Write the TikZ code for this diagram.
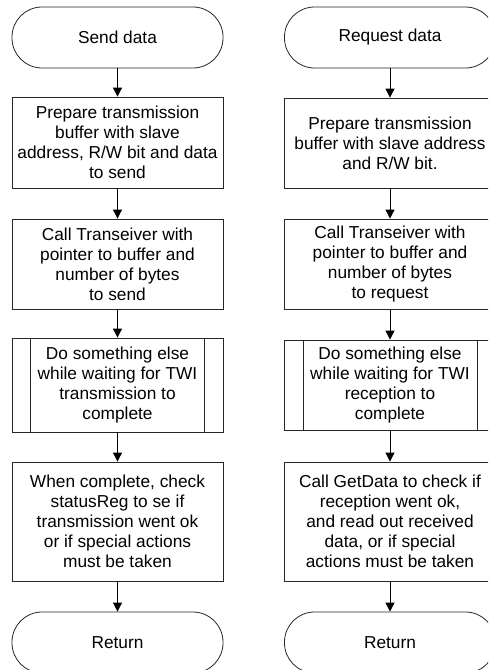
\documentclass[tikz,border=0pt]{standalone}
\usepackage{fontspec}
\setmainfont{Liberation Sans}
\usetikzlibrary{arrows.meta}
\begin{document}
\begin{tikzpicture}[x=1pt,y=1pt,
  txt/.style={font=\fontsize{17.3}{20}\selectfont, align=center},
  box/.style={txt, draw=black!85, line width=0.8pt, minimum width=211pt, inner sep=0pt},
  term/.style={box, rounded corners=30pt, minimum height=61pt},
  arr/.style={-{Triangle[length=9pt,width=9pt]}, line width=0.8pt, black}]
\useasboundingbox (0,0) rectangle (488,-670);
\clip (0,0) rectangle (488,-670);
% left column
\node[term] (ls) at (117.5,-37.5) {Send data};
\node[box, minimum height=91pt] (l1) at (117.5,-142.5) {Prepare transmission\\buffer with slave\\address, R/W bit and data\\to send};
\node[box, minimum height=90pt] (l2) at (117.5,-264) {Call Transeiver with\\pointer to buffer and\\number of bytes\\to send};
\node[box, minimum height=94pt] (l3) at (117.5,-385) {Do something else\\while waiting for TWI\\transmission to\\complete};
\draw[black!85, line width=0.8pt] ([xshift=19pt]l3.north west) -- ([xshift=19pt]l3.south west)
  ([xshift=-19pt]l3.north east) -- ([xshift=-19pt]l3.south east);
\node[box, minimum height=119pt] (l4) at (117.5,-521.5) {When complete, check\\statusReg to se if\\transmission went ok\\or if special actions\\must be taken};
\node[term] (lr) at (117.5,-642.5) {Return};
\draw[arr] (ls) -- (l1);
\draw[arr] (l1) -- (l2);
\draw[arr] (l2) -- (l3);
\draw[arr] (l3) -- (l4);
\draw[arr] (l4) -- (lr);
% right column
\node[term] (rs) at (390,-37.5) {Request data};
\node[box, minimum height=90pt] (r1) at (390,-143) {Prepare transmission\\buffer with slave address\\and R/W bit.};
\node[box, minimum height=90pt] (r2) at (390,-264) {Call Transeiver with\\pointer to buffer and\\number of bytes\\to request};
\node[box, minimum height=90pt] (r3) at (390,-385) {Do something else\\while waiting for TWI\\reception to\\complete};
\draw[black!85, line width=0.8pt] ([xshift=19pt]r3.north west) -- ([xshift=19pt]r3.south west)
  ([xshift=-19pt]r3.north east) -- ([xshift=-19pt]r3.south east);
\node[box, minimum height=119pt] (r4) at (390,-521.5) {Call GetData to check if\\reception went ok,\\and read out received\\data, or if special\\actions must be taken};
\node[term] (rr) at (390,-642.5) {Return};
\draw[arr] (rs) -- (r1);
\draw[arr] (r1) -- (r2);
\draw[arr] (r2) -- (r3);
\draw[arr] (r3) -- (r4);
\draw[arr] (r4) -- (rr);
\end{tikzpicture}
\end{document}
